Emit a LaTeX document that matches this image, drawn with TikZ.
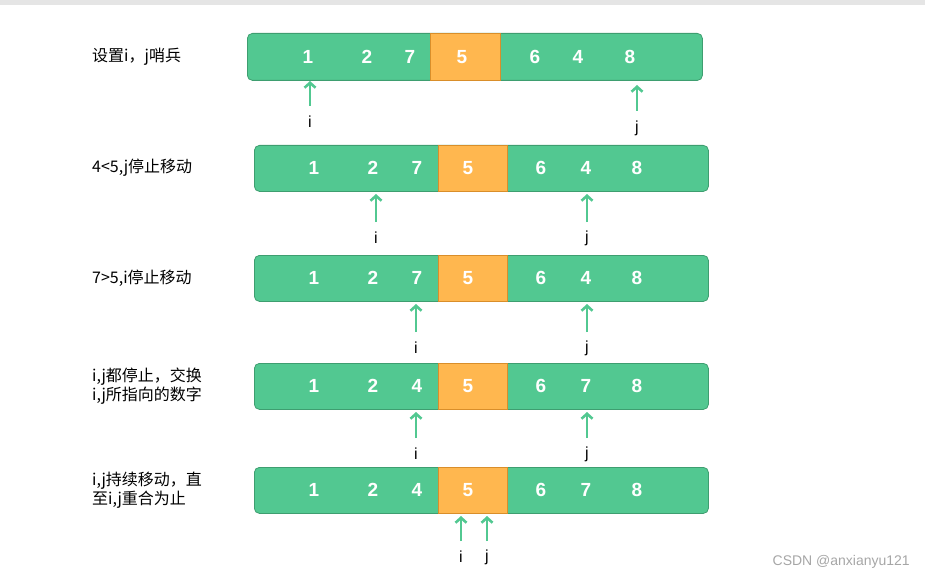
\documentclass[tikz,border=0pt]{standalone}
\usepackage{fontspec}
\setmainfont{Liberation Sans}
\newfontfamily\cjk{Noto Sans CJK SC}
\usetikzlibrary{arrows.meta}
\definecolor{gr}{HTML}{52C891}
\definecolor{grd}{HTML}{3E9E70}
\definecolor{orn}{HTML}{FFB74F}
\definecolor{ornd}{HTML}{D98E2A}
\tikzset{x=1pt,y=-1pt,
 barbox/.style={fill=gr,draw=grd,rounded corners=5pt,line width=0.8pt},
 pivbox/.style={fill=orn,draw=ornd,line width=0.8pt},
 num/.style={text=white,font=\bfseries\fontsize{19}{19}\selectfont,anchor=center,inner sep=0},
 lab/.style={anchor=west,font=\cjk\fontsize{16}{19}\selectfont,align=left,inner sep=0},
 ptr/.style={draw=gr,line width=2.8pt,-{Straight Barb[length=5pt,width=11pt,line width=2.6pt]}},
 idx/.style={font=\fontsize{16}{16}\selectfont,inner sep=0}}
\newcommand{\arow}[8]{%
 % #1 y-top, #2 x-left, #3..#8 digits (row id, values)
}
\begin{document}
\begin{tikzpicture}
\useasboundingbox (0,0) rectangle (925,580);
\fill[gray!20] (0,0) rectangle (925,5);
% row 1
\node[barbox,minimum width=455pt,minimum height=47pt,anchor=north west,inner sep=0] (b1) at (247,33) {};
\node[pivbox,minimum width=70pt,minimum height=47pt,anchor=north west,inner sep=0] (p1) at (430,33) {};
\foreach \v/\x [count=\k] in {1/308,2/367,7/410,5/462,6/535,4/578,8/630}{\node[num] (n1\k) at (\x,57) {\v};}
\node[lab] (l1) at (92,57) {设置i，j哨兵};
\coordinate (a1i) at (310,106); \coordinate (a1j) at (637,111);
\draw[ptr] (a1i) -- (310,81);
\draw[ptr] (a1j) -- (637,85);
\node[idx] (i1) at (310,122) {i};
\node[idx] (j1) at (637,128) {j};
% rows 2-5
\foreach \r/\yt/\ya/\vs/\lt/\xi/\xj in {
 2/145/222/{1,2,7,5,6,4,8}/{4<5,j停止移动}/376/587,
 3/255/332/{1,2,7,5,6,4,8}/{7>5,i停止移动}/416/587,
 4/363/438/{1,2,4,5,6,7,8}/{i,j都停止，交换\\i,j所指向的数字}/416/587,
 5/467/541/{1,2,4,5,6,7,8}/{i,j持续移动，直\\至i,j重合为止}/461/487}{
 \node[barbox,minimum width=454pt,minimum height=46pt,anchor=north west,inner sep=0] (b\r) at (254,\yt) {};
 \node[pivbox,minimum width=69pt,minimum height=46pt,anchor=north west,inner sep=0] (p\r) at (438,\yt) {};
 \foreach \v [count=\k] in \vs {
   \pgfmathsetmacro\xx{{314,373,417,468,541,586,637}[\k-1]}
   \node[num] (n\r\k) at (\xx,\yt+23) {\v};}
 \node[lab] (l\r) at (92,\yt+23) {\lt};
 \coordinate (ai\r) at (\xi,\ya); \coordinate (aj\r) at (\xj,\ya);
 \draw[ptr] (ai\r) -- (\xi,\yt+49);
 \draw[ptr] (aj\r) -- (\xj,\yt+49);
 \node[idx] (i\r) at (\xi,\ya+16) {i};
 \node[idx] (j\r) at (\xj,\ya+16) {j};
}
\node[anchor=east,text=gray!70,font=\fontsize{14}{14}\selectfont,inner sep=0] (wm) at (910,562) {CSDN @anxianyu121};
\end{tikzpicture}
\end{document}
